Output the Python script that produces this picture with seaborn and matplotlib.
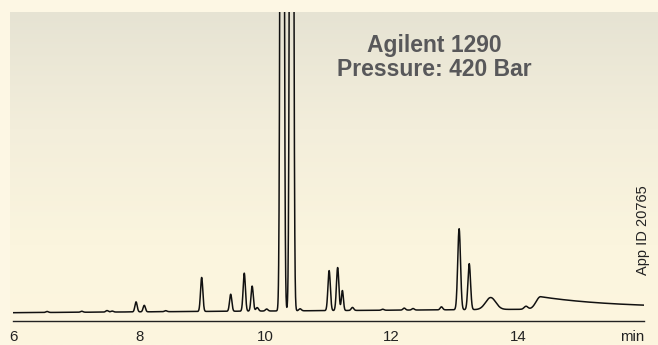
import numpy as np
import pandas as pd
import matplotlib
matplotlib.use("Agg")
import matplotlib.pyplot as plt
import seaborn as sns
from matplotlib.colors import LinearSegmentedColormap

# ---- data ----
peak_time = [6.54, 7.09, 7.49, 7.57, 7.95, 8.08, 8.42, 8.99, 9.45, 9.665, 9.79, 9.87,
             10.02, 10.265, 10.415, 10.55, 11.01, 11.145, 11.22, 11.38, 11.86, 12.20,
             12.34, 12.79, 13.07, 13.23, 13.57, 14.13, 14.36]
peak_height = [1.0, 1.0, 1.5, 1.0, 10.0, 6.5, 1.0, 34.0, 17.0, 38.0, 25.0, 3.5,
               2.0, 2000.0, 2000.0, 2.0, 40.0, 43.0, 20.0, 3.0, 1.0, 2.0,
               1.5, 3.0, 81.0, 46.0, 12.0, 3.0, 12.5]
peak_sigma = [0.02, 0.02, 0.02, 0.02, 0.018, 0.018, 0.02, 0.018, 0.018, 0.018, 0.018, 0.02,
              0.02, 0.02, 0.02, 0.02, 0.019, 0.019, 0.016, 0.02, 0.02, 0.02,
              0.02, 0.02, 0.022, 0.021, 0.08, 0.03, 0.07]
peak_tail = [0, 0, 0, 0, 0, 0, 0, 0, 0, 0, 0, 0,
             0, 0, 0, 0, 0, 0, 0, 0, 0, 0,
             0, 0, 0, 0, 0, 0, 1.25]
baseline_start = 0.3
baseline_end = 4.5

tick_pos = [6, 8, 10, 12, 14, 16]
tick_labels = ["6", "8", "10", "12", "14", "min"]
title_lines = ["Agilent 1290", "Pressure: 420 Bar"]
side_note = "App ID 20765"

# ---- build the trace from the peak table ----
t = np.linspace(6, 16, 5001)
signal = baseline_start + (baseline_end - baseline_start) * (t - 6) / 10.0
for c, h, s, tau in zip(peak_time, peak_height, peak_sigma, peak_tail):
    g = np.exp(-0.5 * ((t - c) / s) ** 2)
    if tau > 0:
        g = np.where(t < c, g, np.exp(-(t - c) / tau))
    signal = signal + h * g
df = pd.DataFrame({"time": t, "signal": signal})

sns.set_style("white")
plt.rcParams["font.family"] = ["Liberation Sans", "DejaVu Sans"]

W, H = 658, 345
fig = plt.figure(figsize=(W / 100, H / 100), dpi=100, facecolor="#fdf7e4")

# gradient panel
bg = fig.add_axes([10 / W, 0, (W - 10) / W, (H - 12) / H])
bg.axis("off")
cmap = LinearSegmentedColormap.from_list(
    "panel", [(0, "#e6e3d3"), (0.35, "#f3eedb"), (0.7, "#fbf5de"), (1, "#fdf6df")])
grad = np.linspace(0, 1, 256).reshape(-1, 1)
bg.imshow(grad, aspect="auto", cmap=cmap, extent=[0, 1, 0, 1], origin="upper")

ax = fig.add_axes([13 / W, 24 / H, 631 / W, 309 / H])
ax.patch.set_alpha(0)
sns.lineplot(data=df, x="time", y="signal", ax=ax, color="#111111", lw=1.1)
ax.set_xlim(6, 16)
ax.set_ylim(-8, 301)
for sp in ["left", "top", "right"]:
    ax.spines[sp].set_visible(False)
ax.spines["bottom"].set_color("#222222")
ax.spines["bottom"].set_linewidth(1.0)
ax.set_yticks([])
ax.set_xticks(tick_pos)
ax.set_xticklabels(tick_labels, fontsize=10.8, color="#222222")
ax.get_xticklabels()[-1].set_ha("right")
ax.tick_params(axis="x", direction="out", length=3.5, width=1, pad=3, color="#222222")
ax.set_xlabel("")
ax.set_ylabel("")

fig.text(434 / W, 1 - 52 / H, title_lines[0], ha="center", va="baseline",
         fontsize=16.5, fontweight="bold", color="#58585a")
fig.text(434 / W, 1 - 76 / H, title_lines[1], ha="center", va="baseline",
         fontsize=16.5, fontweight="bold", color="#58585a")
fig.text(643 / W, 1 - 230 / H, side_note, rotation=90, ha="center", va="center",
         fontsize=10.5, color="#222222")

fig.savefig("out.png", dpi=100, facecolor=fig.get_facecolor())
